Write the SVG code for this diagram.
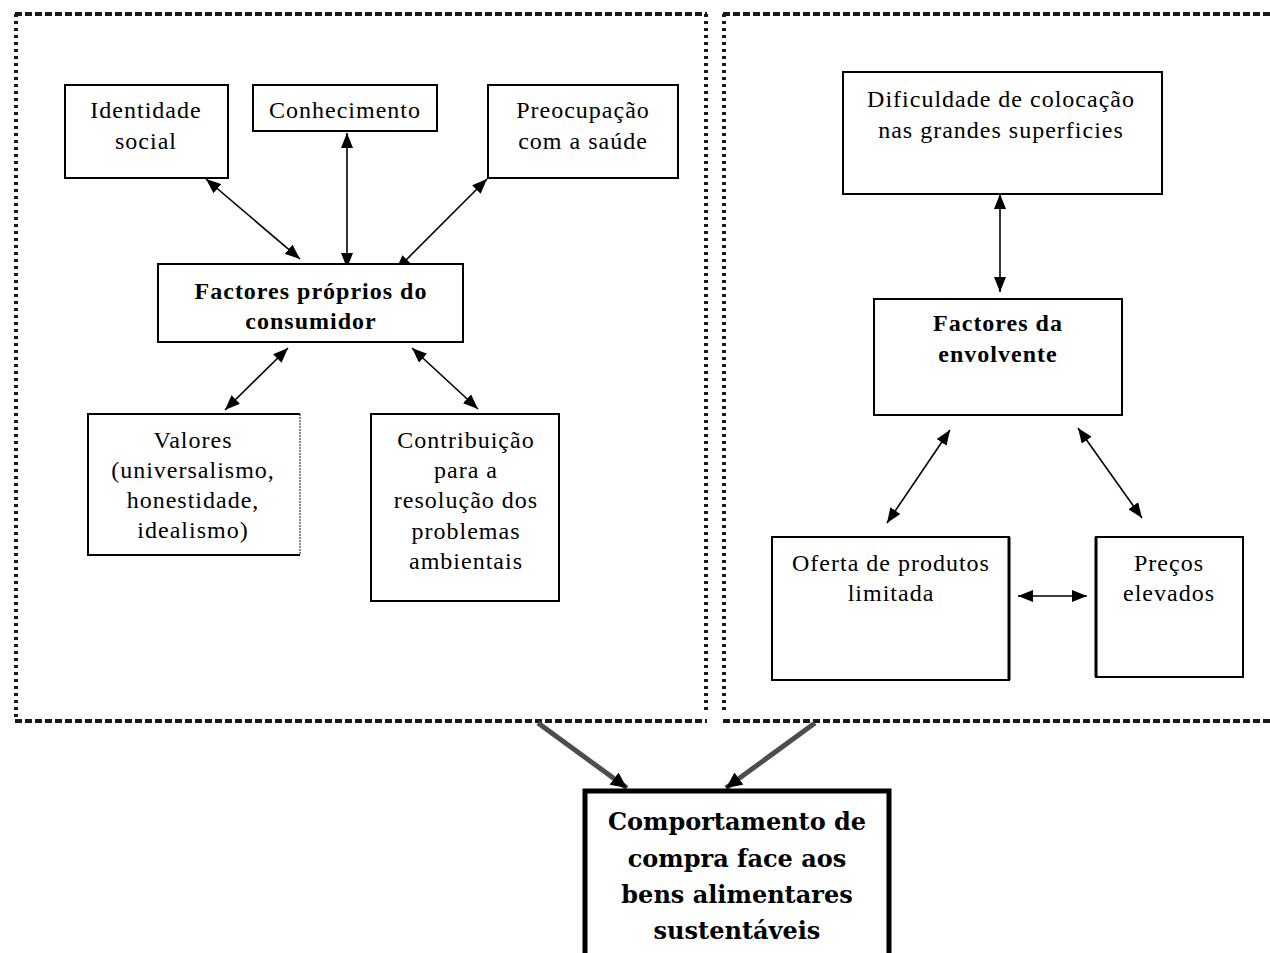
<svg xmlns="http://www.w3.org/2000/svg" width="1270" height="953" viewBox="0 0 1270 953">
<defs>
<marker id="arr" markerUnits="userSpaceOnUse" markerWidth="15" markerHeight="12" refX="15" refY="6" orient="auto-start-reverse" viewBox="0 0 15 12">
<path d="M0,0 L15,6 L0,12 z" fill="#000"/>
</marker>
<marker id="big" markerUnits="userSpaceOnUse" markerWidth="16" markerHeight="15" refX="16" refY="7.5" orient="auto" viewBox="0 0 16 15">
<path d="M0,0 L16,7.5 L0,15 z" fill="#000"/>
</marker>
</defs>
<style>
.frameH{fill:none;stroke:#1a1a1a;stroke-width:4;stroke-dasharray:7 3}
.frameV{fill:none;stroke:#1a1a1a;stroke-width:4;stroke-dasharray:3 4}
.box{fill:#fff;stroke:#000;stroke-width:2}
.t{font-family:"Liberation Serif","Times New Roman",serif;font-size:24px;letter-spacing:1px;text-anchor:middle;fill:#000}
.b{font-family:"Liberation Serif","Times New Roman",serif;font-size:24px;font-weight:bold;letter-spacing:1px;text-anchor:middle;fill:#000}
.bb{font-family:"DejaVu Serif",serif;font-size:24px;font-weight:bold;text-anchor:middle;fill:#000}
.c{fill:none;stroke:#000;stroke-width:1.6;marker-start:url(#arr);marker-end:url(#arr)}
.thick{fill:none;stroke:#4d4d4d;stroke-width:5;marker-end:url(#big)}
</style>
<rect width="1270" height="953" fill="#fff"/>
<g id="frames">
<line class="frameH" x1="15" y1="14" x2="707" y2="14"/>
<line class="frameH" x1="15" y1="721" x2="707" y2="721"/>
<line class="frameV" x1="16" y1="14" x2="16" y2="721"/>
<line class="frameV" x1="706" y1="14" x2="706" y2="714"/>
<line class="frameH" x1="723" y1="14" x2="1270" y2="14"/>
<line class="frameH" x1="723" y1="721" x2="1270" y2="721"/>
<line class="frameV" x1="724" y1="14" x2="724" y2="714"/>
</g>
<g id="connectors">
<line class="c" x1="206" y1="179" x2="300" y2="259"/>
<line class="c" x1="347" y1="133" x2="347" y2="268"/>
<line class="c" x1="487" y1="179" x2="396" y2="270"/>
<line class="c" x1="288" y1="348" x2="225" y2="410"/>
<line class="c" x1="412" y1="348" x2="478" y2="409"/>
<line class="c" x1="1000" y1="194" x2="1000" y2="292"/>
<line class="c" x1="950" y1="430" x2="887" y2="523"/>
<line class="c" x1="1078" y1="428" x2="1142" y2="518"/>
<line class="c" x1="1018" y1="596" x2="1087" y2="596"/>
<line class="thick" x1="538" y1="723" x2="627" y2="788"/>
<line class="thick" x1="815" y1="723" x2="726" y2="788"/>
</g>
<g id="n-identidade">
<rect class="box" x="65" y="85" width="163" height="93"/>
<text class="t" x="146" y="118">Identidade</text>
<text class="t" x="146" y="149">social</text>
</g>
<g id="n-conhecimento">
<rect class="box" x="253" y="85" width="184" height="46"/>
<text class="t" x="345" y="118">Conhecimento</text>
</g>
<g id="n-preocupacao">
<rect class="box" x="488" y="85" width="190" height="93"/>
<text class="t" x="583" y="118">Preocupação</text>
<text class="t" x="583" y="149">com a saúde</text>
</g>
<g id="n-factores-consumidor">
<rect class="box" x="158" y="264" width="305" height="78"/>
<text class="b" x="311" y="299">Factores próprios do</text>
<text class="b" x="311" y="329">consumidor</text>
</g>
<g id="n-valores">
<rect x="88" y="414" width="212" height="141" fill="#fff"/>
<path d="M300,414 H88 V555 H300" fill="none" stroke="#000" stroke-width="2"/>
<line x1="300" y1="414" x2="300" y2="555" stroke="#333" stroke-width="1.2" stroke-dasharray="2 1"/>
<text class="t" x="193" y="448">Valores</text>
<text class="t" x="193" y="478">(universalismo,</text>
<text class="t" x="193" y="508">honestidade,</text>
<text class="t" x="193" y="538">idealismo)</text>
</g>
<g id="n-contribuicao">
<rect class="box" x="371" y="414" width="188" height="187"/>
<text class="t" x="466" y="448">Contribuição</text>
<text class="t" x="466" y="478">para a</text>
<text class="t" x="466" y="508">resolução dos</text>
<text class="t" x="466" y="539">problemas</text>
<text class="t" x="466" y="569">ambientais</text>
</g>
<g id="n-dificuldade">
<rect class="box" x="843" y="72" width="319" height="122"/>
<text class="t" x="1001" y="107">Dificuldade de colocação</text>
<text class="t" x="1001" y="138">nas grandes superficies</text>
</g>
<g id="n-factores-envolvente">
<rect class="box" x="874" y="299" width="248" height="116"/>
<text class="b" x="998" y="331">Factores da</text>
<text class="b" x="998" y="362">envolvente</text>
</g>
<g id="n-oferta">
<rect class="box" x="772" y="537" width="237" height="143"/>
<line x1="1009" y1="537" x2="1009" y2="680" stroke="#000" stroke-width="3"/>
<text class="t" x="891" y="571">Oferta de produtos</text>
<text class="t" x="891" y="601">limitada</text>
</g>
<g id="n-precos">
<rect class="box" x="1096" y="537" width="147" height="140"/>
<line x1="1096" y1="537" x2="1096" y2="677" stroke="#000" stroke-width="3"/>
<text class="t" x="1169" y="571">Preços</text>
<text class="t" x="1169" y="601">elevados</text>
</g>
<g id="n-comportamento">
<rect x="585" y="791" width="304" height="200" fill="#fff" stroke="#000" stroke-width="5"/>
<text class="bb" x="737" y="830">Comportamento de</text>
<text class="bb" x="737" y="867">compra face aos</text>
<text class="bb" x="737" y="903">bens alimentares</text>
<text class="bb" x="737" y="939">sustentáveis</text>
</g>
</svg>
